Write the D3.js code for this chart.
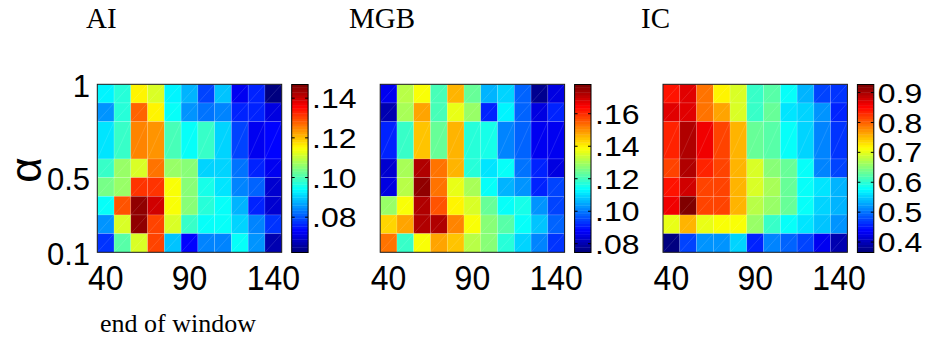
<!DOCTYPE html>
<html>
<head>
<meta charset="utf-8">
<script src="https://cdn.jsdelivr.net/npm/d3@7"></script>
<style>
  html, body { margin: 0; padding: 0; background: #fff; }
  svg { display: block; }
</style>
</head>
<body>
<svg id="chart" width="928" height="339"></svg>
<script>
// ---- data -------------------------------------------------------------
const windowEnds = [40, 50, 60, 70, 80, 90, 100, 110, 120, 130, 140];
// alpha bands, listed top (alpha = 1) to bottom (alpha = 0.1)
const alphaBands = [[0.9, 1.0], [0.8, 0.9], [0.6, 0.8], [0.5, 0.6], [0.4, 0.5], [0.3, 0.4], [0.2, 0.3], [0.1, 0.2]];

const panelTitles = ["AI", "MGB", "IC"];

// rows follow alphaBands order, columns follow windowEnds
const aiValues = [
  [.0927, .0978, .1156, .1122, .0935, .0885, .0791, .0893, .0724, .0758, .0630],
  [.0851, .0978, .1274, .1164, .0944, .0851, .0825, .0834, .0758, .0758, .0707],
  [.0918, .0986, .1257, .1232, .0995, .0944, .0986, .0910, .0791, .0724, .0732],
  [.0986, .1062, .1122, .1266, .1062, .1054, .0910, .0910, .0825, .0766, .0724],
  [.1037, .1062, .1317, .1317, .1151, .1054, .0961, .0918, .0842, .0808, .0698],
  [.0944, .1291, .1452, .1401, .1151, .1046, .0969, .0944, .0876, .0758, .0698],
  [.0859, .1113, .1452, .1300, .1122, .0986, .0944, .0944, .0910, .0842, .0774],
  [.0774, .1012, .1122, .1300, .0893, .0732, .0834, .0842, .0944, .0851, .0664]
];
const mgbValues = [
  [.0870, .1315, .1392, .1201, .1459, .1232, .1067, .1098, .0973, .0767, .0849],
  [.0808, .1304, .1480, .1201, .1366, .1284, .0911, .1129, .0973, .0849, .0911],
  [.0922, .1191, .1444, .1232, .1470, .1180, .1160, .1015, .0973, .0870, .0860],
  [.0839, .1304, .1718, .1532, .1470, .1180, .1108, .1139, .0994, .0911, .0849],
  [.0849, .1315, .1749, .1532, .1366, .1304, .1139, .1067, .1025, .0922, .0953],
  [.1284, .1392, .1728, .1563, .1408, .1356, .1232, .1139, .1160, .1025, .0953],
  [.1428, .1480, .1728, .1718, .1511, .1392, .1273, .1222, .1139, .1077, .0973],
  [.1532, .1191, .1392, .1480, .1444, .1315, .1273, .1170, .1098, .1015, .0932]
];
const icValues = [
  [.843, .871, .787, .725, .697, .607, .624, .579, .539, .477, .466],
  [.871, .871, .787, .764, .697, .607, .629, .562, .556, .522, .455],
  [.837, .893, .857, .815, .753, .629, .624, .579, .556, .506, .466],
  [.820, .899, .837, .815, .753, .697, .652, .629, .579, .506, .477],
  [.843, .882, .820, .820, .753, .697, .668, .629, .584, .562, .539],
  [.857, .921, .820, .820, .753, .680, .657, .629, .584, .556, .539],
  [.702, .758, .702, .716, .716, .657, .607, .579, .562, .545, .517],
  [.371, .477, .517, .517, .556, .461, .506, .489, .477, .435, .393]
];

// colour limits and colorbar ticks per panel
const aiClim = [0.0622, 0.1469];
const mgbClim = [0.0746, 0.1780];
const icClim = [0.365, 0.927];
const aiTicks = [0.08, 0.10, 0.12, 0.14];
const mgbTicks = [0.08, 0.10, 0.12, 0.14, 0.16];
const icTicks = [0.4, 0.5, 0.6, 0.7, 0.8, 0.9];

const xTickValues = [40, 90, 140];
const yTickValues = [0.1, 0.5, 1];

// ---- colormap (64-level jet) ------------------------------------------
function jet(t) {
  const c = v => Math.max(0, Math.min(1, v));
  const r = c(1.5 - Math.abs(4 * t - 3));
  const g = c(1.5 - Math.abs(4 * t - 2));
  const b = c(1.5 - Math.abs(4 * t - 1));
  return d3.rgb(r * 255, g * 255, b * 255).formatHex();
}
const jetLevels = d3.range(64).map(i => jet(i / 63));

// ---- layout -------------------------------------------------------------
const svg = d3.select("#chart");
const sans = "'Liberation Sans', Arial, sans-serif";
const serif = "'Liberation Serif', 'Times New Roman', serif";

const heatLeft = [97.3, 380.2, 663.0];
const heatTop = 84.3, heatW = 184.4, heatH = 168;
const cbOffset = 194.4, cbW = 16.4, cbTop = 84.5, cbH = 168;
const titleX = [86, 349, 641];

const panels = [
  { title: panelTitles[0], values: aiValues, clim: aiClim, ticks: aiTicks, fmt: v => d3.format(".2f")(v).replace(/^0/, "") },
  { title: panelTitles[1], values: mgbValues, clim: mgbClim, ticks: mgbTicks, fmt: v => d3.format(".2f")(v).replace(/^0/, "") },
  { title: panelTitles[2], values: icValues, clim: icClim, ticks: icTicks, fmt: d3.format(".1f") }
];

const y = d3.scaleLinear().domain([0.1, 1]).range([heatTop + heatH, heatTop]);

panels.forEach((p, i) => {
  const x0 = heatLeft[i];
  const x = d3.scaleLinear().domain([35, 145]).range([x0, x0 + heatW]);
  const color = d3.scaleQuantize().domain(p.clim).range(jetLevels);

  const g = svg.append("g");

  // cells
  const cells = [];
  p.values.forEach((row, r) => row.forEach((v, c) => {
    cells.push({ w: windowEnds[c], band: alphaBands[r], v });
  }));
  g.selectAll("rect.cell").data(cells).join("rect")
    .attr("class", "cell")
    .attr("x", d => x(d.w - 5))
    .attr("y", d => y(d.band[1]))
    .attr("width", d => x(d.w + 5) - x(d.w - 5))
    .attr("height", d => y(d.band[0]) - y(d.band[1]))
    .attr("fill", d => color(d.v))
    .attr("stroke", "rgba(255,255,255,0.22)")
    .attr("stroke-width", 0.6);

  // faint facet diagonals of the shaded surface
  g.selectAll("line.facet").data(cells).join("line")
    .attr("class", "facet")
    .attr("x1", d => x(d.w - 5)).attr("y1", d => y(d.band[0]))
    .attr("x2", d => x(d.w + 5)).attr("y2", d => y(d.band[1]))
    .attr("stroke", "rgba(255,255,255,0.2)")
    .attr("stroke-width", 0.6);

  // axes box
  g.append("rect")
    .attr("x", x0).attr("y", heatTop).attr("width", heatW).attr("height", heatH)
    .attr("fill", "none").attr("stroke", "#1a1a1a").attr("stroke-width", 1);

  // x tick labels
  g.selectAll("text.xt").data(xTickValues).join("text")
    .attr("class", "xt")
    .attr("transform", d => `translate(${x(d)},290) scale(1,1.1)`)
    .attr("text-anchor", "middle")
    .attr("font-family", sans).attr("font-size", 32)
    .attr("fill", "#000")
    .text(d => d);

  // title
  svg.append("text")
    .attr("x", titleX[i]).attr("y", 28)
    .attr("font-family", serif).attr("font-size", 29)
    .attr("fill", "#000")
    .text(p.title);

  // colorbar
  const cbX = x0 + cbOffset;
  const cy = d3.scaleLinear().domain(p.clim).range([cbTop + cbH, cbTop]);
  const step = (p.clim[1] - p.clim[0]) / 64;
  const bands = d3.range(64).map(k => [p.clim[0] + k * step, p.clim[0] + (k + 1) * step]);
  g.selectAll("rect.cb").data(bands).join("rect")
    .attr("class", "cb")
    .attr("x", cbX).attr("width", cbW)
    .attr("y", d => cy(d[1]))
    .attr("height", d => cy(d[0]) - cy(d[1]) + 0.4)
    .attr("fill", d => color((d[0] + d[1]) / 2));
  g.append("rect")
    .attr("x", cbX).attr("y", cbTop).attr("width", cbW).attr("height", cbH)
    .attr("fill", "none").attr("stroke", "#000").attr("stroke-width", 1);

  // colorbar tick marks (inside, both edges)
  p.ticks.forEach(t => {
    const ty = cy(t);
    g.append("line").attr("x1", cbX).attr("x2", cbX + 3).attr("y1", ty).attr("y2", ty)
      .attr("stroke", "#000").attr("stroke-width", 1);
    g.append("line").attr("x1", cbX + cbW - 3).attr("x2", cbX + cbW).attr("y1", ty).attr("y2", ty)
      .attr("stroke", "#000").attr("stroke-width", 1);
  });

  // colorbar labels
  g.selectAll("text.cbt").data(p.ticks).join("text")
    .attr("class", "cbt")
    .attr("transform", d => `translate(${cbX + cbW + 4},${cy(d)}) scale(1,0.88)`)
    .attr("y", 11.5)
    .attr("font-family", sans).attr("font-size", 32)
    .attr("fill", "#000")
    .text(d => p.fmt(d));
});

// y axis labels (first panel only)
svg.selectAll("text.yt").data(yTickValues).join("text")
  .attr("class", "yt")
  .attr("x", 90)
  .attr("y", d => y(d) + 12.6)
  .attr("text-anchor", "end")
  .attr("font-family", sans).attr("font-size", 31)
  .attr("fill", "#000")
  .text(d => d3.format("")(d));

// y axis title
svg.append("text")
  .attr("transform", "translate(40.5,170) rotate(-90)")
  .attr("text-anchor", "middle")
  .attr("font-family", sans).attr("font-size", 44)
  .attr("fill", "#000")
  .text("α");

// x axis title
svg.append("text")
  .attr("x", 100).attr("y", 332)
  .attr("font-family", serif).attr("font-size", 26)
  .attr("fill", "#000")
  .text("end of window");
</script>
</body>
</html>
